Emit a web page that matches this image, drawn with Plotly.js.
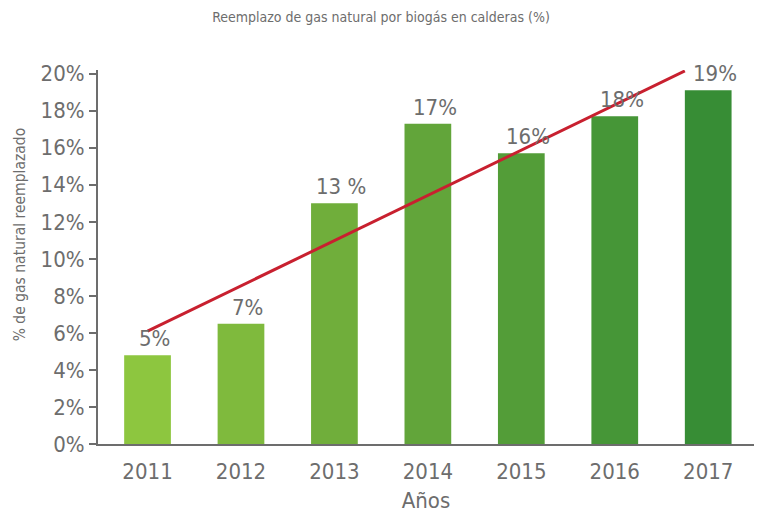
<!DOCTYPE html>
<html>
<head>
<meta charset="utf-8">
<script src="https://cdn.plot.ly/plotly-3.0.1.min.js"></script>
<style>html,body{margin:0;padding:0;background:#fff}#chart{width:762px;height:514px}</style>
</head>
<body>
<div id="chart"></div>
<script>
// ---- data ----
const years = ['2011', '2012', '2013', '2014', '2015', '2016', '2017'];
const values = [4.8, 6.5, 13.0, 17.3, 15.7, 17.7, 19.1];
const valueLabels = ['5%', '7%', '13 %', '17%', '16%', '18%', '19%'];
const barColors = ['#8dc63f', '#7fba3d', '#70ae3b', '#62a53a', '#539d38', '#469637', '#378d35'];
const trendX = [0, 5.75];
const trendY = [6.1, 20.15];
const yTickVals = [0, 2, 4, 6, 8, 10, 12, 14, 16, 18, 20];
const yTickText = ['0%', '2%', '4%', '6%', '8%', '10%', '12%', '14%', '16%', '18%', '20%'];

const FONT = '"Liberation Sans Narrow", "DejaVu Sans Condensed", Roboto, sans-serif';
const GREY = '#6d6d6d';
const xPos = years.map((_, i) => i);

const bars = {
  type: 'bar',
  x: xPos,
  y: values,
  width: 0.5,
  marker: {color: barColors},
  hoverinfo: 'skip',
  showlegend: false
};
const trend = {
  type: 'scatter',
  mode: 'lines',
  x: trendX,
  y: trendY,
  line: {color: '#c8202f', width: 3},
  hoverinfo: 'skip',
  showlegend: false,
  cliponaxis: false
};

const labelAnn = xPos.map((x, i) => ({
  x: x, y: values[i], xref: 'x', yref: 'y',
  text: valueLabels[i], showarrow: false,
  xanchor: 'center', yanchor: 'bottom', xshift: 7, yshift: 2,
  font: {family: FONT, size: 22, color: GREY}
}));

const yTitleAnn = {
  text: '% de gas natural reemplazado',
  xref: 'paper', yref: 'paper',
  x: 0, y: (443.7 - 234) / 374.1,
  xshift: -78, xanchor: 'center', yanchor: 'middle',
  textangle: -90, showarrow: false,
  font: {family: FONT, size: 15.5, color: GREY}
};

const layout = {
  width: 762, height: 514,
  margin: {l: 98, r: 8, t: 69.6, b: 70.3},
  paper_bgcolor: '#fff', plot_bgcolor: '#fff',
  font: {family: FONT, color: GREY},
  title: {
    text: 'Reemplazo de gas natural por biogás en calderas (%)',
    font: {family: FONT, size: 14, color: GREY},
    x: 0.5, xref: 'container', y: 1 - 17 / 514, yref: 'container', yanchor: 'middle'
  },
  xaxis: {
    range: [-0.53, 6.49],
    tickvals: xPos, ticktext: years,
    ticks: 'outside', ticklen: 7, tickcolor: 'rgba(0,0,0,0)',
    showline: true, linecolor: GREY, linewidth: 2,
    showgrid: false, zeroline: false,
    tickfont: {family: FONT, size: 22, color: GREY},
    title: {text: 'Años', font: {family: FONT, size: 22, color: GREY}, standoff: 9}
  },
  yaxis: {
    range: [0, 20.2],
    tickvals: yTickVals, ticktext: yTickText,
    ticks: 'outside', ticklen: 7, tickwidth: 2, tickcolor: GREY,
    showline: true, linecolor: GREY, linewidth: 2,
    showgrid: false, zeroline: false,
    tickfont: {family: FONT, size: 22, color: GREY}
  },
  annotations: labelAnn.concat([yTitleAnn]),
  bargap: 0.5
};

Plotly.newPlot('chart', [bars, trend], layout, {staticPlot: true, displayModeBar: false});
</script>
</body>
</html>
